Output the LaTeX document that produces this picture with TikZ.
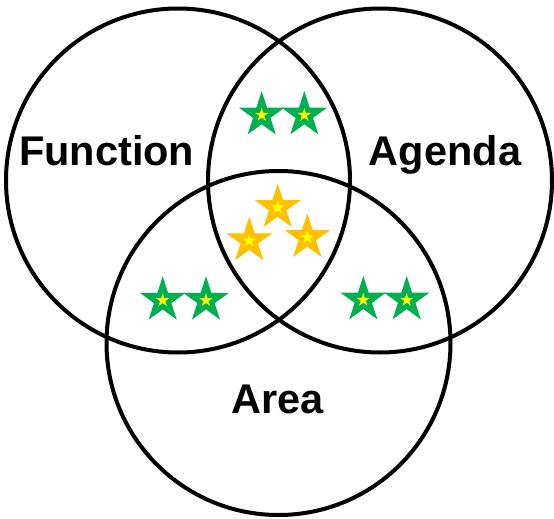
\documentclass[tikz,border=0pt]{standalone}
\usepackage{fontspec}
\setmainfont{Liberation Sans}
\usetikzlibrary{shapes.geometric}
\definecolor{stargreen}{HTML}{00B050}
\definecolor{stargold}{HTML}{FFC000}
\definecolor{staryellow}{HTML}{FFFF00}
\tikzset{
  venn/.style={circle, draw=black, line width=4pt, minimum size=344pt, inner sep=0pt, fill=none},
  bigstar/.style={star, star points=5, star point ratio=2.618, minimum size=48pt, inner sep=0pt, draw=none, fill=#1},
  smallstar/.style={star, star points=5, star point ratio=2.618, minimum size=14pt, inner sep=0pt, draw=none, fill=staryellow},
  lbl/.style={anchor=base, inner sep=0pt, font=\fontsize{41.5}{41.5}\selectfont\bfseries}
}
\begin{document}
\begin{tikzpicture}[x=1pt, y=-1pt]
\useasboundingbox (0,0) rectangle (554,519);
\node[venn] (cF) at (178,180.5) {};
\node[venn] (cG) at (380,180.5) {};
\node[venn] (cA) at (278.5,343) {};
\node[lbl] (tF) at (106.7,165) {Function};
\node[lbl] (tG) at (445,165) {Agenda};
\node[lbl] (tA) at (277.7,413.3) {Area};
% green stars
\foreach \n/\x/\y in {g1/261.7/115.1, g2/304.3/115.1, g3/162.7/300.3, g4/206/300.3, g5/363.3/300, g6/406.7/300} {
  \node[bigstar=stargreen] (\n) at (\x,\y) {};
  \node[smallstar] (\n i) at (\x,\y) {};
}
% gold stars
\foreach \n/\x/\y in {y1/277.7/207.6, y2/249.3/240.8, y3/307.3/237.5} {
  \node[bigstar=stargold] (\n) at (\x,\y) {};
  \node[smallstar] (\n i) at (\x,\y) {};
}
\end{tikzpicture}
\end{document}
